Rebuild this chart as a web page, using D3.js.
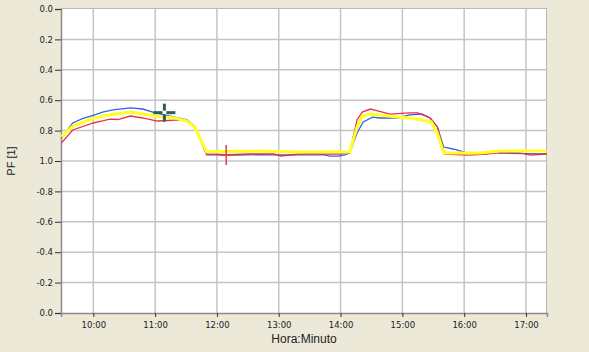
<!DOCTYPE html>
<html><head><meta charset="utf-8">
<script src="https://cdn.jsdelivr.net/npm/d3@7"></script>
<style>
html,body{margin:0;padding:0;background:#ECE9D8;}
svg{display:block;}
</style></head>
<body>
<svg id="c" width="589" height="352"></svg>
<script>
// ---- data ----
const yTickPos = [0, 0.2, 0.4, 0.6, 0.8, 1.0, 1.2, 1.4, 1.6, 1.8, 2.0];
const yTickLabels = ["0.0","0.2","0.4","0.6","0.8","1.0","-0.8","-0.6","-0.4","-0.2","0.0"];
const xTickLabels = ["10:00","11:00","12:00","13:00","14:00","15:00","16:00","17:00"];

const blueTimes = ["09:29","09:40","09:50","10:00","10:09","10:19","10:36","10:48","11:00","11:05","11:19","11:31","11:39","11:50","12:00","12:20","12:40","13:00","13:20","13:44","13:50","13:58","14:04","14:09","14:16","14:22","14:31","14:38","14:55","15:07","15:19","15:27","15:34","15:40","15:49","16:03","16:30","17:00","17:20"];
const blueVals  = [0.85,0.75,0.72,0.70,0.678,0.664,0.651,0.658,0.684,0.69,0.711,0.73,0.776,0.96,0.958,0.962,0.958,0.96,0.96,0.96,0.968,0.968,0.96,0.947,0.816,0.743,0.711,0.717,0.717,0.697,0.691,0.717,0.776,0.908,0.921,0.947,0.947,0.952,0.954];

const redTimes = ["09:29","09:40","10:00","10:10","10:16","10:24","10:36","10:48","11:02","11:24","11:31","11:39","11:50","12:10","12:30","12:55","13:02","13:20","13:40","14:00","14:09","14:16","14:21","14:29","14:36","14:48","15:07","15:15","15:27","15:34","15:41","16:04","16:22","16:32","16:54","17:04","17:20"];
const redVals  = [0.882,0.796,0.75,0.735,0.724,0.727,0.704,0.717,0.737,0.73,0.737,0.78,0.954,0.958,0.954,0.954,0.967,0.954,0.954,0.954,0.941,0.73,0.678,0.658,0.671,0.691,0.684,0.684,0.717,0.776,0.954,0.961,0.954,0.947,0.947,0.961,0.954];

const yellowTimes = ["09:29","09:40","10:00","10:09","10:36","11:00","11:19","11:31","11:39","11:50","12:00","12:40","13:20","14:00","14:09","14:16","14:21","14:29","14:55","15:07","15:19","15:28","15:34","15:40","16:00","16:15","16:35","17:20"];
const yellowVals  = [0.84,0.77,0.72,0.704,0.678,0.704,0.717,0.737,0.783,0.941,0.938,0.935,0.941,0.941,0.941,0.776,0.704,0.691,0.711,0.717,0.73,0.743,0.816,0.947,0.947,0.947,0.934,0.934];

const cursorGreen = {time:"11:09", val:0.682};
const cursorRed   = {time:"12:09", val:0.961};

// ---- chart ----
const W = 589, H = 352;
const L = 61, R = 547, T = 8, B = 313;
const parse = d3.timeParse("%H:%M");
const svg = d3.select("#c");

const x = d3.scaleTime()
  .domain([new Date(1900,0,1,9,28,38), new Date(1900,0,1,17,20,24)])
  .range([L, R]);
const y = d3.scaleLinear().domain([0, 2]).range([9, B]);

svg.append("rect").attr("x", L).attr("y", T).attr("width", R - L).attr("height", B - T)
  .attr("fill", "#ffffff");

const xTicks = xTickLabels.map(parse);

// grid
svg.append("g").selectAll("line").data(yTickPos.slice(1, -1)).join("line")
  .attr("x1", L).attr("x2", R).attr("y1", d => y(d)).attr("y2", d => y(d))
  .attr("stroke", "#c4c4c4").attr("stroke-width", 1.5);
svg.append("g").selectAll("line").data(xTicks).join("line")
  .attr("y1", T).attr("y2", B).attr("x1", d => x(d)).attr("x2", d => x(d))
  .attr("stroke", "#c4c4c4").attr("stroke-width", 1.5);

// border
svg.append("rect").attr("x", L + 0.5).attr("y", T + 0.5).attr("width", R - L - 1).attr("height", B - T)
  .attr("fill", "none").attr("stroke", "#b8b8b8").attr("stroke-width", 1);

// axes
const yAxis = d3.axisLeft(y).tickValues(yTickPos).tickSize(6).tickPadding(2)
  .tickFormat((d, i) => yTickLabels[i]);
const gy = svg.append("g").attr("transform", `translate(${L},0)`).call(yAxis);
gy.select(".domain").attr("stroke", "#8a8a8a").attr("stroke-width", 1.5);
gy.selectAll(".tick line").attr("stroke", "#333").attr("stroke-width", 1);
gy.selectAll("text").attr("font-family", "DejaVu Sans").attr("font-size", "8.5px").attr("fill", "#222");

const xAxis = d3.axisBottom(x).tickValues(xTicks).tickSize(4).tickPadding(5)
  .tickFormat((d, i) => xTickLabels[i]);
const gx = svg.append("g").attr("transform", `translate(0,${B})`).call(xAxis);
gx.select(".domain").attr("stroke", "#8a8a8a").attr("stroke-width", 1.5);
gx.selectAll(".tick line").attr("stroke", "#333").attr("stroke-width", 1);
gx.selectAll("text").attr("font-family", "DejaVu Sans").attr("font-size", "8.5px").attr("fill", "#222");

// series
const line = d3.line().x(d => x(d[0])).y(d => y(d[1]));
function series(times, vals) { return times.map((t, i) => [parse(t), vals[i]]); }

svg.append("clipPath").attr("id", "clp").append("rect")
  .attr("x", L).attr("y", T).attr("width", R - L).attr("height", B - T);
const gS = svg.append("g").attr("clip-path", "url(#clp)");

gS.append("path").datum(series(blueTimes, blueVals)).attr("d", line)
  .attr("fill", "none").attr("stroke", "#3a5fe0").attr("stroke-width", 1.3);
gS.append("path").datum(series(redTimes, redVals)).attr("d", line)
  .attr("fill", "none").attr("stroke", "#e8304a").attr("stroke-width", 1.3);
gS.append("path").datum(series(yellowTimes, yellowVals)).attr("d", line)
  .attr("fill", "none").attr("stroke", "#ffff20").attr("stroke-width", 3);

// cursors
const gx0 = x(parse(cursorGreen.time)), gy0 = y(cursorGreen.val);
const gc = svg.append("g").attr("stroke", "#2e5c58").attr("stroke-width", 3);
gc.append("line").attr("x1", gx0 - 11).attr("x2", gx0 - 2).attr("y1", gy0).attr("y2", gy0);
gc.append("line").attr("x1", gx0 + 2).attr("x2", gx0 + 11).attr("y1", gy0).attr("y2", gy0);
gc.append("line").attr("x1", gx0).attr("x2", gx0).attr("y1", gy0 - 9).attr("y2", gy0 - 2);
gc.append("line").attr("x1", gx0).attr("x2", gx0).attr("y1", gy0 + 2).attr("y2", gy0 + 9);

const rx0 = x(parse(cursorRed.time)), ry0 = y(cursorRed.val);
const rc = svg.append("g").attr("stroke", "#d8404e").attr("stroke-width", 1.5);
rc.append("line").attr("x1", rx0 - 7).attr("x2", rx0 + 7).attr("y1", ry0).attr("y2", ry0);
rc.append("line").attr("x1", rx0).attr("x2", rx0).attr("y1", ry0 - 10).attr("y2", ry0 + 10);

// titles
svg.append("text").attr("x", (L + R) / 2).attr("y", 343).attr("text-anchor", "middle")
  .attr("font-family", "Liberation Sans, Arial, sans-serif").attr("font-size", "12px").attr("fill", "#222")
  .text("Hora:Minuto");
svg.append("text").attr("transform", `translate(15,161) rotate(-90)`).attr("text-anchor", "middle")
  .attr("font-family", "Liberation Sans, Arial, sans-serif").attr("font-size", "11px").attr("fill", "#222")
  .text("PF [1]");
</script>
</body></html>
